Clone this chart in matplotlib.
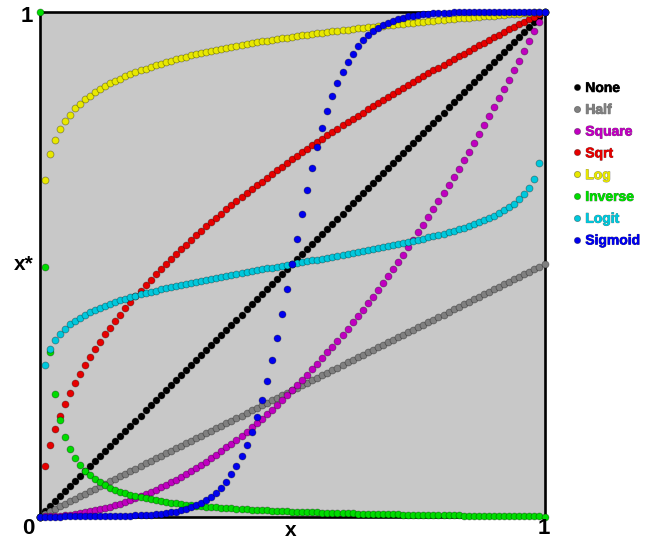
import matplotlib
matplotlib.use("Agg")
import matplotlib.pyplot as plt
import matplotlib.patheffects as pe

plt.rcParams['font.family'] = ['Liberation Sans', 'DejaVu Sans']

# ---- data ----
x_vals = [0.00, 0.01, 0.02, 0.03, 0.04, 0.05, 0.06, 0.07, 0.08, 0.09,
          0.10, 0.11, 0.12, 0.13, 0.14, 0.15, 0.16, 0.17, 0.18, 0.19,
          0.20, 0.21, 0.22, 0.23, 0.24, 0.25, 0.26, 0.27, 0.28, 0.29,
          0.30, 0.31, 0.32, 0.33, 0.34, 0.35, 0.36, 0.37, 0.38, 0.39,
          0.40, 0.41, 0.42, 0.43, 0.44, 0.45, 0.46, 0.47, 0.48, 0.49,
          0.50, 0.51, 0.52, 0.53, 0.54, 0.55, 0.56, 0.57, 0.58, 0.59,
          0.60, 0.61, 0.62, 0.63, 0.64, 0.65, 0.66, 0.67, 0.68, 0.69,
          0.70, 0.71, 0.72, 0.73, 0.74, 0.75, 0.76, 0.77, 0.78, 0.79,
          0.80, 0.81, 0.82, 0.83, 0.84, 0.85, 0.86, 0.87, 0.88, 0.89,
          0.90, 0.91, 0.92, 0.93, 0.94, 0.95, 0.96, 0.97, 0.98, 0.99,
          1.00]

none_vals = [0.00, 0.01, 0.02, 0.03, 0.04, 0.05, 0.06, 0.07, 0.08, 0.09,
             0.10, 0.11, 0.12, 0.13, 0.14, 0.15, 0.16, 0.17, 0.18, 0.19,
             0.20, 0.21, 0.22, 0.23, 0.24, 0.25, 0.26, 0.27, 0.28, 0.29,
             0.30, 0.31, 0.32, 0.33, 0.34, 0.35, 0.36, 0.37, 0.38, 0.39,
             0.40, 0.41, 0.42, 0.43, 0.44, 0.45, 0.46, 0.47, 0.48, 0.49,
             0.50, 0.51, 0.52, 0.53, 0.54, 0.55, 0.56, 0.57, 0.58, 0.59,
             0.60, 0.61, 0.62, 0.63, 0.64, 0.65, 0.66, 0.67, 0.68, 0.69,
             0.70, 0.71, 0.72, 0.73, 0.74, 0.75, 0.76, 0.77, 0.78, 0.79,
             0.80, 0.81, 0.82, 0.83, 0.84, 0.85, 0.86, 0.87, 0.88, 0.89,
             0.90, 0.91, 0.92, 0.93, 0.94, 0.95, 0.96, 0.97, 0.98, 0.99,
             1.00]

half_vals = [0.000, 0.005, 0.010, 0.015, 0.020, 0.025, 0.030, 0.035, 0.040, 0.045,
             0.050, 0.055, 0.060, 0.065, 0.070, 0.075, 0.080, 0.085, 0.090, 0.095,
             0.100, 0.105, 0.110, 0.115, 0.120, 0.125, 0.130, 0.135, 0.140, 0.145,
             0.150, 0.155, 0.160, 0.165, 0.170, 0.175, 0.180, 0.185, 0.190, 0.195,
             0.200, 0.205, 0.210, 0.215, 0.220, 0.225, 0.230, 0.235, 0.240, 0.245,
             0.250, 0.255, 0.260, 0.265, 0.270, 0.275, 0.280, 0.285, 0.290, 0.295,
             0.300, 0.305, 0.310, 0.315, 0.320, 0.325, 0.330, 0.335, 0.340, 0.345,
             0.350, 0.355, 0.360, 0.365, 0.370, 0.375, 0.380, 0.385, 0.390, 0.395,
             0.400, 0.405, 0.410, 0.415, 0.420, 0.425, 0.430, 0.435, 0.440, 0.445,
             0.450, 0.455, 0.460, 0.465, 0.470, 0.475, 0.480, 0.485, 0.490, 0.495,
             0.500]

square_vals = [0.0000, 0.0001, 0.0004, 0.0009, 0.0016, 0.0025, 0.0036, 0.0049, 0.0064, 0.0081,
               0.0100, 0.0121, 0.0144, 0.0169, 0.0196, 0.0225, 0.0256, 0.0289, 0.0324, 0.0361,
               0.0400, 0.0441, 0.0484, 0.0529, 0.0576, 0.0625, 0.0676, 0.0729, 0.0784, 0.0841,
               0.0900, 0.0961, 0.1024, 0.1089, 0.1156, 0.1225, 0.1296, 0.1369, 0.1444, 0.1521,
               0.1600, 0.1681, 0.1764, 0.1849, 0.1936, 0.2025, 0.2116, 0.2209, 0.2304, 0.2401,
               0.2500, 0.2601, 0.2704, 0.2809, 0.2916, 0.3025, 0.3136, 0.3249, 0.3364, 0.3481,
               0.3600, 0.3721, 0.3844, 0.3969, 0.4096, 0.4225, 0.4356, 0.4489, 0.4624, 0.4761,
               0.4900, 0.5041, 0.5184, 0.5329, 0.5476, 0.5625, 0.5776, 0.5929, 0.6084, 0.6241,
               0.6400, 0.6561, 0.6724, 0.6889, 0.7056, 0.7225, 0.7396, 0.7569, 0.7744, 0.7921,
               0.8100, 0.8281, 0.8464, 0.8649, 0.8836, 0.9025, 0.9216, 0.9409, 0.9604, 0.9801,
               1.0000]

sqrt_vals = [0.0000, 0.1000, 0.1414, 0.1732, 0.2000, 0.2236, 0.2449, 0.2646, 0.2828, 0.3000,
             0.3162, 0.3317, 0.3464, 0.3606, 0.3742, 0.3873, 0.4000, 0.4123, 0.4243, 0.4359,
             0.4472, 0.4583, 0.4690, 0.4796, 0.4899, 0.5000, 0.5099, 0.5196, 0.5292, 0.5385,
             0.5477, 0.5568, 0.5657, 0.5745, 0.5831, 0.5916, 0.6000, 0.6083, 0.6164, 0.6245,
             0.6325, 0.6403, 0.6481, 0.6557, 0.6633, 0.6708, 0.6782, 0.6856, 0.6928, 0.7000,
             0.7071, 0.7141, 0.7211, 0.7280, 0.7348, 0.7416, 0.7483, 0.7550, 0.7616, 0.7681,
             0.7746, 0.7810, 0.7874, 0.7937, 0.8000, 0.8062, 0.8124, 0.8185, 0.8246, 0.8307,
             0.8367, 0.8426, 0.8485, 0.8544, 0.8602, 0.8660, 0.8718, 0.8775, 0.8832, 0.8888,
             0.8944, 0.9000, 0.9055, 0.9110, 0.9165, 0.9220, 0.9274, 0.9327, 0.9381, 0.9434,
             0.9487, 0.9539, 0.9592, 0.9644, 0.9695, 0.9747, 0.9798, 0.9849, 0.9899, 0.9950,
             1.0000]

log_vals = [0.000, 0.667, 0.717, 0.746, 0.767, 0.783, 0.796, 0.808, 0.817, 0.826,
            0.833, 0.840, 0.847, 0.852, 0.858, 0.863, 0.867, 0.872, 0.876, 0.880,
            0.884, 0.887, 0.890, 0.894, 0.897, 0.900, 0.902, 0.905, 0.908, 0.910,
            0.913, 0.915, 0.918, 0.920, 0.922, 0.924, 0.926, 0.928, 0.930, 0.932,
            0.934, 0.935, 0.937, 0.939, 0.941, 0.942, 0.944, 0.945, 0.947, 0.948,
            0.950, 0.951, 0.953, 0.954, 0.955, 0.957, 0.958, 0.959, 0.961, 0.962,
            0.963, 0.964, 0.965, 0.967, 0.968, 0.969, 0.970, 0.971, 0.972, 0.973,
            0.974, 0.975, 0.976, 0.977, 0.978, 0.979, 0.980, 0.981, 0.982, 0.983,
            0.984, 0.985, 0.986, 0.987, 0.987, 0.988, 0.989, 0.990, 0.991, 0.992,
            0.992, 0.993, 0.994, 0.995, 0.996, 0.996, 0.997, 0.998, 0.999, 0.999,
            1.000]

inverse_vals = [1.0000, 0.4950, 0.3267, 0.2425, 0.1920, 0.1583, 0.1343, 0.1163, 0.1022, 0.0910,
                0.0818, 0.0742, 0.0677, 0.0621, 0.0573, 0.0531, 0.0494, 0.0461, 0.0432, 0.0405,
                0.0381, 0.0359, 0.0339, 0.0321, 0.0304, 0.0288, 0.0274, 0.0261, 0.0248, 0.0237,
                0.0226, 0.0216, 0.0206, 0.0197, 0.0189, 0.0181, 0.0173, 0.0166, 0.0159, 0.0153,
                0.0146, 0.0140, 0.0135, 0.0130, 0.0124, 0.0120, 0.0115, 0.0110, 0.0106, 0.0102,
                0.0098, 0.0094, 0.0091, 0.0087, 0.0084, 0.0080, 0.0077, 0.0074, 0.0071, 0.0068,
                0.0066, 0.0063, 0.0060, 0.0058, 0.0055, 0.0053, 0.0051, 0.0049, 0.0046, 0.0044,
                0.0042, 0.0040, 0.0038, 0.0036, 0.0035, 0.0033, 0.0031, 0.0029, 0.0028, 0.0026,
                0.0025, 0.0023, 0.0022, 0.0020, 0.0019, 0.0017, 0.0016, 0.0015, 0.0013, 0.0012,
                0.0011, 0.0010, 0.0009, 0.0007, 0.0006, 0.0005, 0.0004, 0.0003, 0.0002, 0.0001,
                0.0000]

logit_vals = [0.0000, 0.3004, 0.3310, 0.3490, 0.3620, 0.3721, 0.3805, 0.3877, 0.3939, 0.3995,
              0.4046, 0.4092, 0.4135, 0.4174, 0.4212, 0.4247, 0.4280, 0.4311, 0.4341, 0.4370,
              0.4398, 0.4425, 0.4450, 0.4475, 0.4499, 0.4523, 0.4546, 0.4568, 0.4590, 0.4611,
              0.4632, 0.4652, 0.4673, 0.4692, 0.4712, 0.4731, 0.4750, 0.4769, 0.4787, 0.4806,
              0.4824, 0.4842, 0.4860, 0.4878, 0.4895, 0.4913, 0.4930, 0.4948, 0.4965, 0.4983,
              0.5000, 0.5017, 0.5035, 0.5052, 0.5070, 0.5087, 0.5105, 0.5122, 0.5140, 0.5158,
              0.5176, 0.5194, 0.5213, 0.5231, 0.5250, 0.5269, 0.5288, 0.5308, 0.5327, 0.5348,
              0.5368, 0.5389, 0.5410, 0.5432, 0.5454, 0.5477, 0.5501, 0.5525, 0.5550, 0.5575,
              0.5602, 0.5630, 0.5659, 0.5689, 0.5720, 0.5753, 0.5788, 0.5826, 0.5865, 0.5908,
              0.5954, 0.6005, 0.6061, 0.6123, 0.6195, 0.6279, 0.6380, 0.6510, 0.6690, 0.6996,
              1.0000]

sigmoid_vals = [0.0000, 0.0000, 0.0000, 0.0000, 0.0000, 0.0001, 0.0001, 0.0001, 0.0002, 0.0002,
                0.0003, 0.0004, 0.0005, 0.0006, 0.0007, 0.0009, 0.0011, 0.0013, 0.0016, 0.0020,
                0.0024, 0.0030, 0.0036, 0.0045, 0.0054, 0.0066, 0.0081, 0.0099, 0.0121, 0.0147,
                0.0179, 0.0218, 0.0266, 0.0323, 0.0392, 0.0474, 0.0573, 0.0691, 0.0832, 0.0997,
                0.1192, 0.1418, 0.1680, 0.1978, 0.2315, 0.2689, 0.3100, 0.3543, 0.4013, 0.4502,
                0.5000, 0.5498, 0.5987, 0.6457, 0.6900, 0.7311, 0.7685, 0.8022, 0.8320, 0.8582,
                0.8808, 0.9003, 0.9168, 0.9309, 0.9427, 0.9526, 0.9608, 0.9677, 0.9734, 0.9782,
                0.9821, 0.9853, 0.9879, 0.9901, 0.9919, 0.9934, 0.9946, 0.9955, 0.9964, 0.9970,
                0.9976, 0.9980, 0.9984, 0.9987, 0.9989, 0.9991, 0.9993, 0.9994, 0.9995, 0.9996,
                0.9997, 0.9998, 0.9998, 0.9999, 0.9999, 0.9999, 1.0000, 1.0000, 1.0000, 1.0000,
                1.0000]

series_names = ["None", "Half", "Square", "Sqrt", "Log", "Inverse", "Logit", "Sigmoid"]
series_values = [none_vals, half_vals, square_vals, sqrt_vals, log_vals,
                 inverse_vals, logit_vals, sigmoid_vals]
series_colors = ["#000000", "#808080", "#c000c0", "#e60000", "#e8e800",
                 "#00dc00", "#00c8dc", "#0000ee"]

# ---- figure ----
W, H = 658, 539
fig = plt.figure(figsize=(W / 100, H / 100), dpi=100)
ax = fig.add_axes([39.5 / W, 1 - 516.5 / H, 505 / W, 505 / H])
ax.set_facecolor("#c8c8c8")
ax.set_xlim(0, 1)
ax.set_ylim(0, 1)
ax.set_xticks([])
ax.set_yticks([])
for s in ax.spines.values():
    s.set_linewidth(1.9)
    s.set_color("black")
    s.set_zorder(1)

handles = []
for k, (name, vals, col) in enumerate(zip(series_names, series_values, series_colors)):
    h, = ax.plot(x_vals, vals, linestyle="none", marker="o", markersize=5.0,
                 markerfacecolor=col, markeredgecolor=(0, 0, 0, 0.35),
                 markeredgewidth=0.6, clip_on=False, zorder=3 + k, label=name)
    handles.append(h)

bold = dict(fontweight="bold", color="black")
fig.text(27 / W, 1 - 17 / H, "1", ha="center", va="center", fontsize=16, **bold)
fig.text(28.5 / W, 1 - 529 / H, "0", ha="center", va="center", fontsize=16, **bold)
fig.text(544 / W, 1 - 528 / H, "1", ha="center", va="center", fontsize=16, **bold)
fig.text(291 / W, 1 - 530 / H, "x", ha="center", va="center", fontsize=15, **bold)
fig.text(24 / W, 1 - 265 / H, "x*", ha="center", va="center", fontsize=15, **bold)

leg = fig.legend(handles=handles, loc="upper left",
                 bbox_to_anchor=(573.5 / W, 1 - 81 / H),
                 frameon=False, fontsize=10, handlelength=0.5, handletextpad=0.35,
                 labelspacing=0.56, borderpad=0, borderaxespad=0,
                 prop=dict(weight="bold", size=10, family=["Liberation Sans", "DejaVu Sans"]),
                 markerscale=0.9)
for t, col in zip(leg.get_texts(), series_colors):
    t.set_color(col)
    t.set_path_effects([pe.withStroke(linewidth=0.7, foreground=(0, 0, 0, 0.45)), pe.Normal()])

fig.savefig("out.png", dpi=100)
